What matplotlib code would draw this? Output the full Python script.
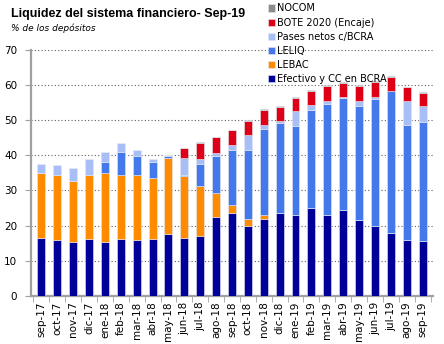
import matplotlib
matplotlib.use("Agg")
import matplotlib.pyplot as plt
import numpy as np

# ── Data (% de los depósitos) ────────────────────────────────────────────
months = ["sep-17", "oct-17", "nov-17", "dic-17", "ene-18", "feb-18", "mar-18",
          "abr-18", "may-18", "jun-18", "jul-18", "ago-18", "sep-18", "oct-18",
          "nov-18", "dic-18", "ene-19", "feb-19", "mar-19", "abr-19", "may-19",
          "jun-19", "jul-19", "ago-19", "sep-19"]
efectivo = [16.6, 15.8, 15.4, 16.1, 15.4, 16.3, 15.8, 16.3, 17.5, 16.6, 16.9, 22.3,
            23.7, 20.0, 21.9, 23.7, 23.0, 25.0, 23.0, 24.3, 21.6, 20.0, 17.8, 15.9, 15.7]
lebac = [18.5, 18.5, 17.3, 18.4, 19.6, 18.0, 18.7, 17.3, 21.6, 17.4, 14.3, 7.0,
         2.2, 1.8, 1.2, 0, 0, 0, 0, 0, 0, 0, 0, 0, 0]
leliq = [0, 0, 0, 0, 3.2, 6.5, 5.2, 4.4, 0.6, 0.5, 6.3, 10.4,
         15.7, 19.8, 24.3, 25.6, 25.2, 27.9, 31.7, 31.9, 32.5, 35.9, 40.4, 32.6, 33.8]
pases = [2.5, 2.8, 3.8, 4.5, 2.8, 2.7, 1.9, 1.0, 0.3, 4.7, 1.4, 1.0,
         1.3, 4.2, 1.3, 0.6, 4.3, 1.4, 0.7, 0.5, 1.3, 0.8, 0.2, 7.0, 4.4]
bote = [0, 0, 0, 0, 0, 0, 0, 0, 0, 2.8, 4.6, 4.4,
        4.2, 4.1, 4.1, 3.8, 3.8, 4.0, 4.2, 4.0, 4.2, 4.1, 3.9, 3.8, 3.8]
nocom = [0, 0, 0, 0, 0, 0, 0, 0, 0, 0, 0.3, 0.2,
         0.2, 0.2, 0.3, 0.3, 0.3, 0.3, 0.3, 0.3, 0.3, 0.3, 0.3, 0.2, 0.2]

series = [
    ("Efectivo y CC en BCRA", efectivo, "#000099"),
    ("LEBAC", lebac, "#FF8C00"),
    ("LELIQ", leliq, "#4479EC"),
    ("Pases netos c/BCRA", pases, "#A7BEF7"),
    ("BOTE 2020 (Encaje)", bote, "#DD0017"),
    ("NOCOM", nocom, "#8C8C8C"),
]

# ── Figure ───────────────────────────────────────────────────────────────
fig = plt.figure(figsize=(4.44, 3.44), dpi=100)
ax = fig.add_axes([0.07, 0.14, 0.905, 0.715])

x = np.arange(len(months))
bottom = np.zeros(len(months))
handles = []
for name, vals, col in series:
    vals = np.array(vals, dtype=float)
    b = ax.bar(x, vals, width=0.5, bottom=bottom, color=col,
               edgecolor="#E4E8F4", linewidth=0.4, label=name, zorder=3)
    handles.append(b)
    bottom += vals

ax.set_ylim(0, 70)
ax.set_xlim(-0.65, len(months) - 0.35)
ax.set_yticks(range(0, 71, 10))
ax.yaxis.grid(True, linestyle=(0, (1, 2)), color="#606060", linewidth=0.8, zorder=0)
ax.set_xticks(x)
ax.set_xticklabels(months, rotation=90, fontsize=7.5)
ax.set_xticks(np.arange(-0.5, len(months), 1), minor=True)
ax.tick_params(axis="x", which="major", length=0, pad=4)
ax.tick_params(axis="x", which="minor", length=4, color="#A0A0A0")
ax.tick_params(axis="y", labelsize=7.5, length=4, color="#A0A0A0", pad=6)

for s in ["top", "right"]:
    ax.spines[s].set_visible(False)
ax.spines["left"].set_color("#A0A0A0")
ax.spines["left"].set_linewidth(1.6)
ax.spines["bottom"].set_color("#A0A0A0")
ax.spines["bottom"].set_linewidth(1.6)

fig.text(0.025, 0.958, "Liquidez del sistema financiero- Sep-19",
         fontsize=9, fontweight="bold", family="Liberation Sans", va="center")
fig.text(0.025, 0.918, "% de los depósitos", fontsize=6.5,
         style="italic", va="center")

leg = fig.legend(handles[::-1], [s[0] for s in series][::-1],
                 loc="upper left", bbox_to_anchor=(0.603, 0.990),
                 frameon=False, fontsize=7, handlelength=0.75,
                 handleheight=0.75, handletextpad=0.25, labelspacing=0.42,
                 borderaxespad=0, borderpad=0)

fig.savefig("out.png", dpi=100)
